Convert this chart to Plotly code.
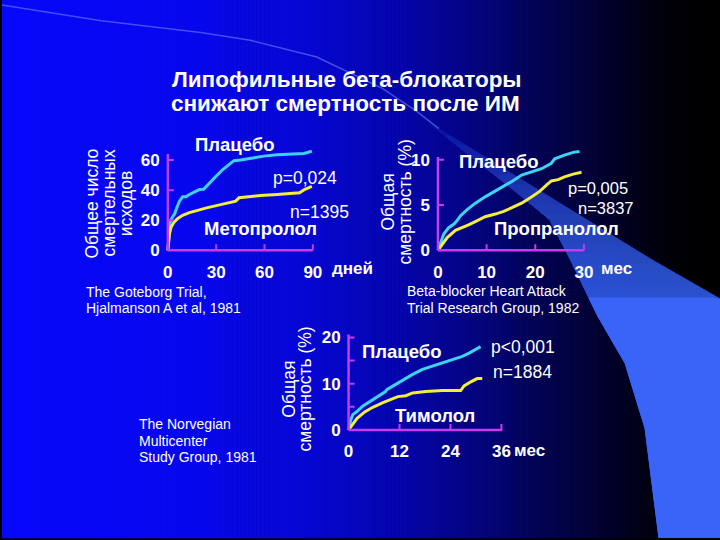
import plotly.graph_objects as go

# ---------------- data ----------------
# Goteborg trial (metoprolol), cumulative deaths vs days
got_days_placebo = [0, 1.4, 2.7, 4.1, 5.8, 7.2, 9.2, 11.3, 13.4, 16, 19.5, 22.2, 24.7, 28.8, 33.9, 38, 41, 45.2, 51.4, 59.6, 67.8, 76, 84.3, 86.7, 89.4]
got_placebo = [0, 18.5, 21.8, 24, 29, 32.7, 35.6, 35.6, 37.1, 38.6, 40.4, 40.6, 43.6, 48, 53.5, 56.7, 59.6, 60, 61.1, 62.6, 63.5, 63.9, 64.4, 65, 65.9]
got_days_meto = [0, 1, 2, 3.7, 6.2, 9.2, 13.4, 18.5, 24.7, 30.8, 37, 42.1, 44.2, 49.3, 57.5, 67.8, 77.7, 81.8, 84.8, 89.4]
got_meto = [0, 10.9, 15.3, 18.5, 21.2, 23.3, 25.1, 26.8, 28.4, 29.9, 31.6, 32.7, 34.9, 35.6, 36.4, 37.1, 37.7, 38.2, 40.4, 42.5]

# BHAT (propranolol), total mortality % vs months
bhat_months_placebo = [0, 0.54, 1.2, 2.2, 3.3, 3.9, 4.6, 6, 7.7, 9.7, 11.4, 13.1, 15.2, 17.2, 19.3, 21.3, 23.3, 24, 26, 27.8, 29.1]
bhat_placebo = [0, 0.9, 1.8, 2.5, 2.9, 3.25, 3.8, 4.5, 5.2, 5.9, 6.4, 6.9, 7.6, 8.3, 8.7, 9, 9.6, 10.1, 10.5, 10.8, 10.9]
bhat_months_prop = [0, 0.9, 1.9, 3.6, 5, 6.3, 8, 9.7, 11.8, 13.5, 15.2, 17.2, 19.3, 20.9, 22.3, 23.3, 24.7, 26, 27.8, 29.5]
bhat_prop = [0, 0.7, 1.4, 2.2, 2.5, 2.8, 3.25, 3.7, 4, 4.3, 4.7, 5.2, 5.9, 6.5, 7.2, 7.65, 7.8, 8.1, 8.4, 8.6]

# Norwegian multicenter (timolol), total mortality % vs months
nor_months_placebo = [0, 0.5, 1, 2, 3.4, 4.9, 6.5, 8.1, 8.7, 9, 10.4, 12.7, 15.1, 17.4, 19.8, 22.1, 24.5, 26.8, 28.4, 29.9, 31.1]
nor_placebo = [0, 2.1, 3.3, 4, 5.2, 6.1, 7.1, 7.9, 8.3, 8.7, 9.5, 10.8, 12, 13.1, 13.8, 14.5, 15.2, 15.9, 16.6, 17.3, 18]
nor_months_timo = [0, 0.9, 2, 3.8, 5.7, 8.1, 10.4, 11.6, 13.5, 15.1, 18.2, 22.1, 26.4, 27.2, 28.8, 30.3, 31.5]
nor_timo = [0, 1.1, 2.5, 3.9, 4.9, 5.9, 6.7, 7.2, 7.4, 8, 8.3, 8.5, 8.5, 9.5, 10.4, 11.1, 11.1]

# tick values / labels
c1_xticks = [0, 30, 60, 90]
c1_xlabels = ["0", "30", "60", "90"]
c1_yticks = [0, 20, 40, 60]
c1_ylabels = ["0", "20", "40", "60"]
c2_xticks = [0, 10, 20, 30]
c2_xlabels = ["0", "10", "20", "30"]
c2_yticks = [0, 5, 10]
c2_ylabels = ["0", "5", "10"]
c3_xticks = [0, 12, 24, 36]
c3_xlabels = ["0", "12", "24", "36"]
c3_yticks = [0, 5, 10, 15, 20]
c3_ylabels = ["0", "", "10", "", "20"]

# ---------------- styling ----------------
W, H = 720, 540
FONT = "Liberation Sans, Arial, sans-serif"
CYAN = "#3ed3f2"
YELLOW = "#f2ee3a"
AXIS = "#c43cf0"
WHITE = "#ffffff"

fig = go.Figure()
shapes = []
annotations = []

# background: horizontal blue -> black gradient
grad = [(0, 250), (100, 246), (200, 236), (300, 214), (400, 172), (450, 142), (500, 112),
        (550, 80), (600, 50), (650, 20), (680, 6), (720, 0)]


def blue_at(x):
    for (x0, b0), (x1, b1) in zip(grad[:-1], grad[1:]):
        if x0 <= x <= x1:
            return b0 + (b1 - b0) * (x - x0) / (x1 - x0)
    return 0


step = 4
for x in range(0, W, step):
    b = blue_at(x + step / 2)
    c = "rgb(%d,%d,%d)" % (round(b * 0.03), round(b * 0.03), round(b))
    shapes.append(dict(type="rect", xref="paper", yref="paper", layer="below",
                       x0=x / W, x1=min(x + step + 0.5, W) / W, y0=-0.01, y1=1.01,
                       line=dict(width=0), fillcolor=c))

# decorative arc + widening light band
arc = [(0, 2), (100, 18), (200, 30), (250, 38), (317, 55), (383, 87), (417, 110), (440, 128)]
path = "M " + " L ".join("%.4f,%.4f" % (x / W, 1 - y / H) for x, y in arc)
shapes.append(dict(type="path", xref="paper", yref="paper", layer="below", path=path,
                   line=dict(color="rgba(110,140,255,0.55)", width=1.5)))

left_edge = [(420, 115), (467, 153), (520, 195), (551, 221), (571, 260), (600, 320),
             (627, 367), (647, 433), (661, 545)]


def xl(y):
    for (x0, y0), (x1, y1) in zip(left_edge[:-1], left_edge[1:]):
        if y0 <= y <= y1:
            return x0 + (x1 - x0) * (y - y0) / (y1 - y0)
    return left_edge[-1][0]


def xr(y):
    if y < 302:
        return 420 + (y - 115) * 300 / 187
    return 725


# stacked translucent layers, each from a start row down to the bottom (no seams)
starts = list(range(115, 300, 10))
alpha_each = 0.085
for y0 in starts:
    ys_edge = [y for y in [115, 153, 195, 221, 260, 302, 320, 367, 433, 545] if y > y0]
    pts = [(xl(y0), y0), (xr(y0), y0)]
    pts += [(xr(y), y) for y in ys_edge]
    pts += [(xl(y), y) for y in reversed(ys_edge)]
    p = "M " + " L ".join("%.4f,%.4f" % (x / W, 1 - y / H) for x, y in pts) + " Z"
    shapes.append(dict(type="path", xref="paper", yref="paper", layer="below", path=p,
                       line=dict(width=0), fillcolor="rgba(62,104,252,%.3f)" % alpha_each))
# solid lower part
y0 = 300
ys_edge = [y for y in [302, 320, 367, 433, 545] if y > y0]
pts = [(xl(y0), y0), (xr(y0), y0)] + [(xr(y), y) for y in ys_edge] + [(xl(y), y) for y in reversed(ys_edge)]
p = "M " + " L ".join("%.4f,%.4f" % (x / W, 1 - y / H) for x, y in pts) + " Z"
shapes.append(dict(type="path", xref="paper", yref="paper", layer="below", path=p,
                   line=dict(width=0), fillcolor="rgb(58,100,248)"))

# ---------------- charts ----------------
charts = [
    dict(sfx="", origin=(167, 252), sx=146 / 90, sy=92 / 60, xr=(-2, 94), yr=(-2.5, 68),
         xlen=90, ylen=64, xt=c1_xticks, xtt=c1_xlabels, yt=c1_yticks, ytt=c1_ylabels,
         series=[(got_days_placebo, got_placebo, CYAN, "Плацебо"),
                 (got_days_meto, got_meto, YELLOW, "Метопролол")]),
    dict(sfx="2", origin=(439, 252), sx=4.9, sy=9.24, xr=(-0.6, 31.5), yr=(-0.35, 11.4),
         xlen=30, ylen=10.3, xt=c2_xticks, xtt=c2_xlabels, yt=c2_yticks, ytt=c2_ylabels,
         series=[(bhat_months_placebo, bhat_placebo, CYAN, "Плацебо"),
                 (bhat_months_prop, bhat_prop, YELLOW, "Пропранолол")]),
    dict(sfx="3", origin=(349, 435), sx=51.3 / 12, sy=94.3 / 20, xr=(-0.7, 37.5), yr=(-0.7, 21.3),
         xlen=36.2, ylen=20.6, xt=c3_xticks, xtt=c3_xlabels, yt=c3_yticks, ytt=c3_ylabels,
         series=[(nor_months_placebo, nor_placebo, CYAN, "Плацебо"),
                 (nor_months_timo, nor_timo, YELLOW, "Тимолол")]),
]

tickfont = dict(family=FONT, size=17, color=WHITE, weight="bold")
layout_axes = {}
for c in charts:
    ox, oy = c["origin"]
    xd = [(ox + c["xr"][0] * c["sx"]) / W, (ox + c["xr"][1] * c["sx"]) / W]
    yd = [1 - (oy - c["yr"][0] * c["sy"]) / H, 1 - (oy - c["yr"][1] * c["sy"]) / H]
    xa, ya = "x" + c["sfx"], "y" + c["sfx"]
    layout_axes["xaxis" + c["sfx"]] = dict(
        domain=xd, range=list(c["xr"]), anchor=ya, showgrid=False, zeroline=False,
        showline=False, ticks="", tickmode="array", tickvals=c["xt"], ticktext=c["xtt"],
        tickfont=tickfont, ticklabelstandoff=6, fixedrange=True)
    layout_axes["yaxis" + c["sfx"]] = dict(
        domain=yd, range=list(c["yr"]), anchor=xa, showgrid=False, zeroline=False,
        showline=False, ticks="", tickmode="array", tickvals=c["yt"], ticktext=c["ytt"],
        tickfont=tickfont, ticklabelstandoff=4, fixedrange=True)
    for xs, vals, col, name in c["series"]:
        fig.add_trace(go.Scatter(x=xs, y=vals, mode="lines", name=name, xaxis=xa, yaxis=ya,
                                 line=dict(color=col, width=3), hoverinfo="skip",
                                 showlegend=False))
    # axis lines
    shapes.append(dict(type="line", xref=xa, yref=ya, x0=0, x1=0, y0=0, y1=c["ylen"],
                       line=dict(color=AXIS, width=2.5), layer="above"))
    shapes.append(dict(type="line", xref=xa, yref=ya, x0=0, x1=c["xlen"], y0=0, y1=0,
                       line=dict(color=AXIS, width=2.5), layer="above"))
    for v in c["xt"][1:]:
        shapes.append(dict(type="line", xref=xa, yref=ya, x0=v, x1=v, ysizemode="pixel",
                           yanchor=0, y0=0, y1=6, line=dict(color=AXIS, width=2)))
    for v in c["yt"][1:]:
        shapes.append(dict(type="line", xref=xa, yref=ya, y0=v, y1=v, xsizemode="pixel",
                           xanchor=0, x0=0, x1=6, line=dict(color=AXIS, width=2)))


def label(text, x, y, size=16, bold=False, angle=0, xanchor="center"):
    annotations.append(dict(text=text, x=x / W, y=1 - y / H, xref="paper", yref="paper",
                            showarrow=False, xanchor=xanchor, yanchor="middle",
                            textangle=angle,
                            font=dict(family=FONT, size=size, color=WHITE,
                                      weight="bold" if bold else "normal")))


# title
label("Липофильные бета-блокаторы", 347, 78, size=22.5, bold=True)
label("снижают смертность после ИМ", 346, 102, size=22.5, bold=True)

# chart 1 texts
label("Плацебо", 234, 144, size=18.5, bold=True)
label("p=0,024", 305, 178, size=17.5)
label("n=1395", 320, 213, size=17.5)
label("Метопролол", 260, 230, size=18.5, bold=True)
label("дней", 353, 271, size=17, bold=True)
label("Общее число", 91, 204, size=17.5, angle=-90)
label("смертельных", 108, 204, size=17.5, angle=-90)
label("исходов", 125, 204, size=17.5, angle=-90)
label("The Goteborg Trial,", 83, 294, size=14, xanchor="left")
label("Hjalmanson A et al, 1981", 83, 311, size=14, xanchor="left")

# chart 2 texts
label("Плацебо", 500, 161, size=18.5, bold=True)
label("p=0,005", 600, 188, size=16.5)
label("n=3837", 608, 209, size=16.5)
label("Пропранолол", 558, 230, size=18.5, bold=True)
label("мес", 619, 271, size=17, bold=True)
label("Общая", 389, 203, size=17.5, angle=-90)
label("смертность (%)", 406, 203, size=17.5, angle=-90)
label("Beta-blocker Heart Attack", 406, 293, size=14, xanchor="left")
label("Trial Research Group, 1982", 406, 311, size=14, xanchor="left")

# chart 3 texts
label("Плацебо", 402, 355, size=18.5, bold=True)
label("p<0,001", 525, 350, size=17.5)
label("n=1884", 524, 376, size=17.5)
label("Тимолол", 436, 420, size=18.5, bold=True)
label("мес", 531, 456, size=17, bold=True)
label("Общая", 289, 393, size=17.5, angle=-90)
label("смертность (%)", 305, 393, size=17.5, angle=-90)
label("The Norvegian", 136, 429, size=14, xanchor="left")
label("Multicenter", 136, 446, size=14, xanchor="left")
label("Study Group, 1981", 136, 463, size=14, xanchor="left")

fig.update_layout(
    width=W, height=H, margin=dict(l=0, r=0, t=0, b=0),
    paper_bgcolor="#000000", plot_bgcolor="rgba(0,0,0,0)",
    showlegend=False, hovermode=False,
    shapes=shapes, annotations=annotations,
    font=dict(family=FONT, color=WHITE),
    **layout_axes,
)

fig.write_html("out.html", config={"displayModeBar": False},
               post_script="document.body.style.margin='0px';document.body.style.overflow='hidden';")
